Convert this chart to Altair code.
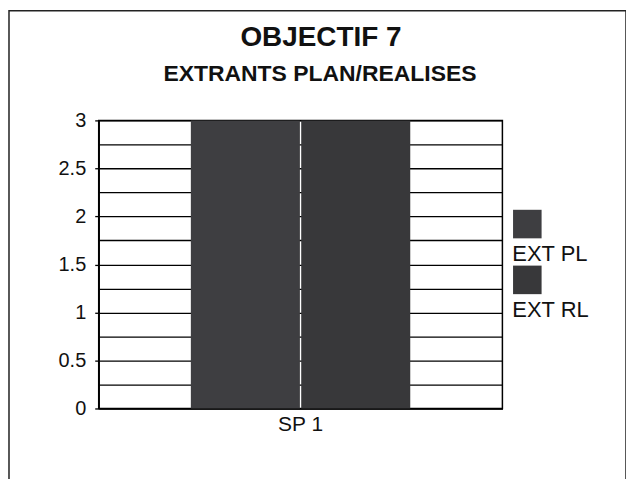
import altair as alt
import pandas as pd

# ---- data ----
categories = ["SP 1"]
series = ["EXT PL", "EXT RL"]
ext_pl = [3]
ext_rl = [3]
colors = ["#3e3e41", "#38383a"]
y_ticks = [0, 0.25, 0.5, 0.75, 1, 1.25, 1.5, 1.75, 2, 2.25, 2.5, 2.75, 3]
title_text = "OBJECTIF 7"
subtitle_text = "EXTRANTS PLAN/REALISES"

rows = []
for i, c in enumerate(categories):
    rows.append({"category": c, "series": series[0], "value": ext_pl[i]})
    rows.append({"category": c, "series": series[1], "value": ext_rl[i]})
df = pd.DataFrame(rows)
df_leg = pd.DataFrame({"series": series})
FONT = "Liberation Sans"

color_scale = alt.Scale(domain=series, range=colors)

bars = alt.Chart(df).mark_bar().encode(
    x=alt.X("category:N", sort=categories,
            scale=alt.Scale(paddingInner=0, paddingOuter=0.42),
            axis=alt.Axis(title=None, labelAngle=0, ticks=False, domain=True,
                          domainColor="black", domainWidth=1.5,
                          labelFont=FONT, labelFontSize=21, labelColor="#111",
                          labelPadding=5)),
    xOffset=alt.XOffset("series:N", scale=alt.Scale(domain=series, paddingInner=0.012)),
    y=alt.Y("value:Q", scale=alt.Scale(domain=[0, 3], nice=False),
            axis=alt.Axis(title=None, values=y_ticks,
                          labelExpr="datum.value % 0.5 == 0 ? format(datum.value, '~g') : ''",
                          grid=True, gridColor="black", gridWidth=1.3, gridOpacity=1,
                          domainColor="black", domainWidth=1.5,
                          tickColor="black", tickWidth=1.3, tickSize=4,
                          tickOpacity={"condition": {"test": "datum.value % 0.5 == 0", "value": 1}, "value": 0},
                          labelFont=FONT, labelFontSize=20, labelColor="#111",
                          labelPadding=9)),
    color=alt.Color("series:N", scale=color_scale, legend=None),
)

one = pd.DataFrame({"k": [0]})
frame = alt.Chart(one).mark_rect(filled=False, stroke="#222", strokeWidth=1.5).encode(
    x=alt.value(-90), x2=alt.value(529), y=alt.value(-110), y2=alt.value(380)
)

t1 = alt.Chart(one).mark_text(text=title_text, font=FONT, fontSize=28, fontWeight="bold",
                              color="#111", align="center", baseline="alphabetic").encode(
    x=alt.value(223), y=alt.value(-75)
)
t2 = alt.Chart(one).mark_text(text=subtitle_text, font=FONT, fontSize=23, fontWeight="bold",
                              color="#111", align="center", baseline="alphabetic").encode(
    x=alt.value(222), y=alt.value(-40)
)

leg_scale = alt.Scale(domain=series, range=[104, 160], padding=0)
leg_sq = alt.Chart(df_leg).mark_square(size=820, opacity=1).encode(
    x=alt.value(430),
    y=alt.Y("series:N", scale=leg_scale, axis=None),
    color=alt.Color("series:N", scale=color_scale, legend=None),
)
leg_tx = alt.Chart(df_leg).mark_text(font=FONT, fontSize=22, color="#111", align="left",
                                     baseline="alphabetic", dy=37).encode(
    x=alt.value(415),
    y=alt.Y("series:N", scale=leg_scale, axis=None),
    text="series:N",
)

chart = alt.layer(frame, t1, t2, bars, leg_sq, leg_tx).resolve_scale(
    y="independent"
).properties(
    width=405, height=289, autosize="none",
    padding={"left": 91, "top": 112, "right": 124, "bottom": 70},
    background="white",
).configure_view(stroke="black", strokeWidth=1.5)

chart.save("out.html", embed_options={"renderer": "svg", "actions": False})
